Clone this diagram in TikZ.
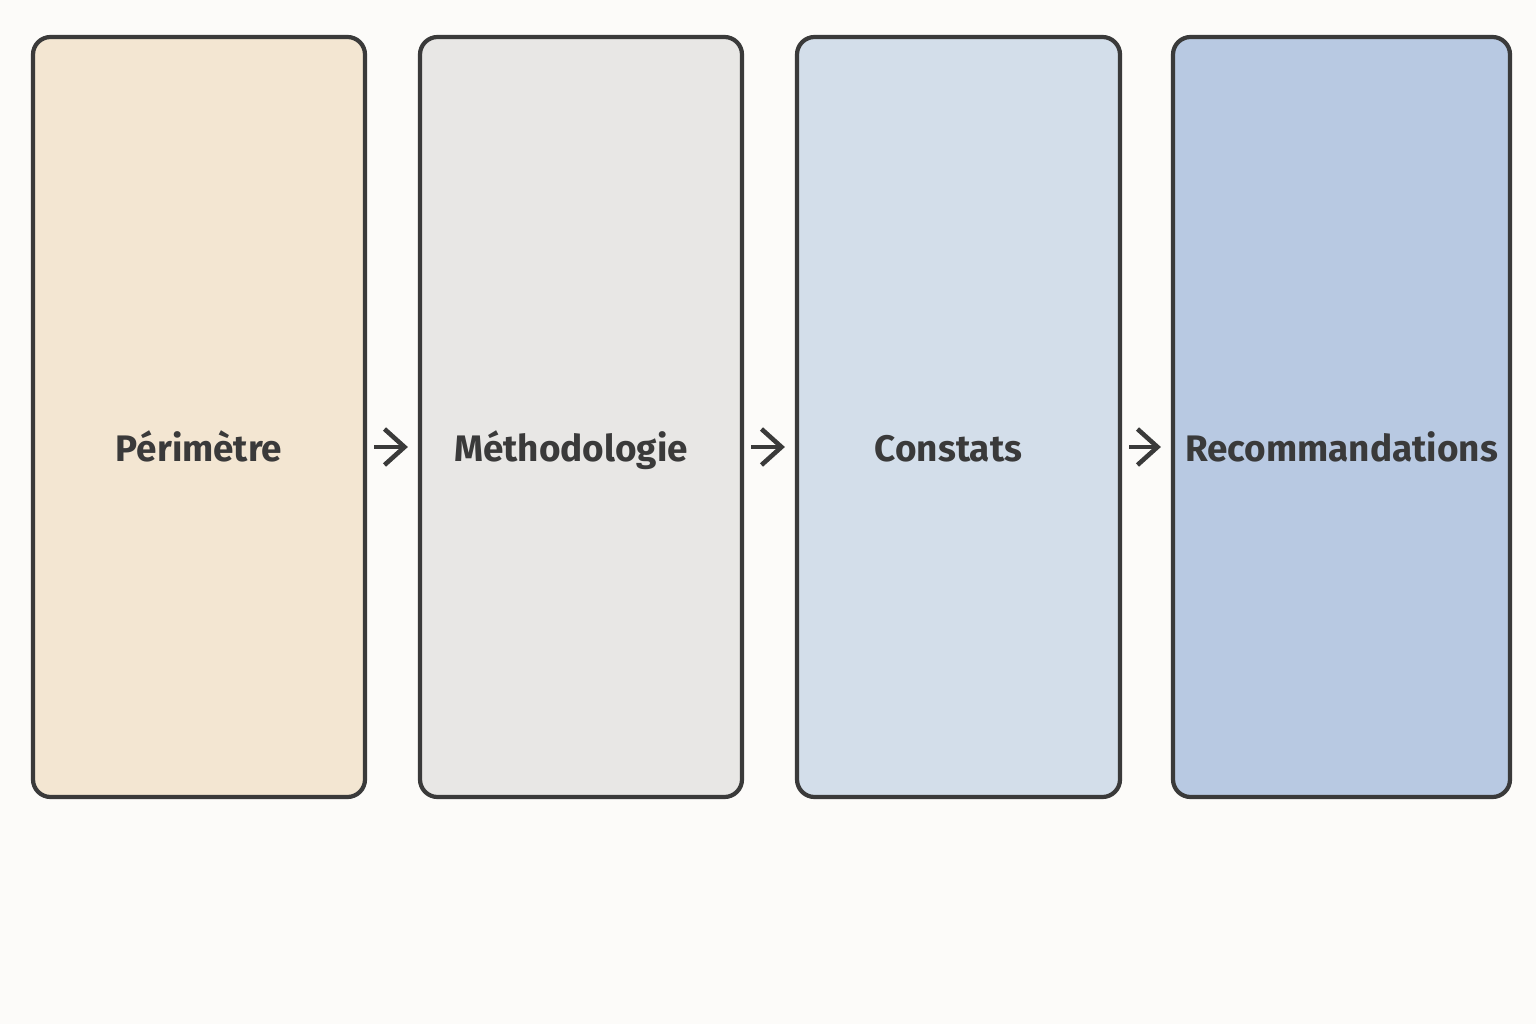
\documentclass[tikz,border=0pt]{standalone}
\usepackage{fontspec}
\setmainfont{Fira Sans}
\usetikzlibrary{arrows.meta}
\definecolor{bgc}{HTML}{FCFBF9}
\definecolor{edge}{HTML}{3A3A3A}
\definecolor{fillA}{HTML}{F3E6D2}
\definecolor{fillB}{HTML}{E8E7E5}
\definecolor{fillC}{HTML}{D3DEEA}
\definecolor{fillD}{HTML}{B8C9E2}
\begin{document}
\begin{tikzpicture}[
  > = {Straight Barb[length=2mm,width=3.6mm]},
  box/.style = {draw=edge,line width=1.2pt,rounded corners=5pt,minimum height=7.6cm,inner sep=0pt},
  lbl/.style = {text=edge,anchor=base,font=\fontsize{10.5}{13}\selectfont\bfseries},
  flow/.style = {->,draw=edge,line width=1.3pt,shorten <=0.07cm,shorten >=0.1cm}
  ]
  \fill[bgc] (0,0) rectangle (15.36,10.24);
  \useasboundingbox (0,0) rectangle (15.36,10.24);
  \node[box,fill=fillA,minimum width=3.32cm] (b1) at (1.99,6.07) {};
  \node[box,fill=fillB,minimum width=3.22cm] (b2) at (5.81,6.07) {};
  \node[box,fill=fillC,minimum width=3.23cm] (b3) at (9.585,6.07) {};
  \node[box,fill=fillD,minimum width=3.37cm] (b4) at (13.415,6.07) {};

  \node[lbl] (t1) at ([yshift=-4.4mm]b1.center) {Périmètre};
  \node[lbl] (t2) at ([xshift=-0.1cm,yshift=-4.4mm]b2.center) {Méthodologie};
  \node[lbl] (t3) at ([xshift=-0.1cm,yshift=-4.4mm]b3.center) {Constats};
  \node[lbl] (t4) at ([yshift=-4.4mm]b4.center) {Recommandations};

  \coordinate (mid) at ([yshift=-3mm]b1.center);
  \draw[flow] (b1.east |- mid) -- (b2.west |- mid);
  \draw[flow] (b2.east |- mid) -- (b3.west |- mid);
  \draw[flow] (b3.east |- mid) -- (b4.west |- mid);
\end{tikzpicture}
\end{document}
